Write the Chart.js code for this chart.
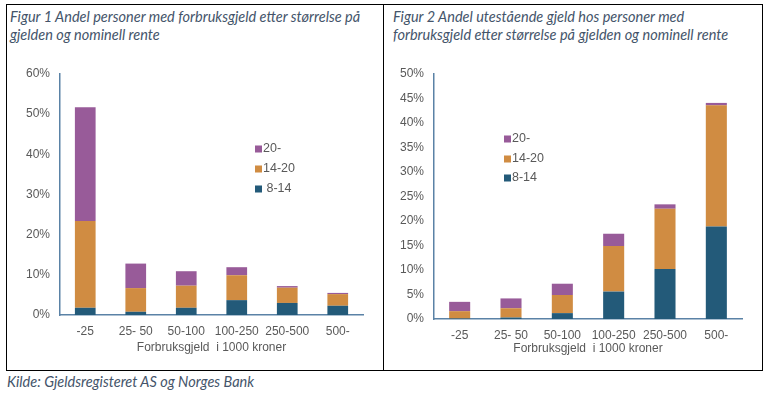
<!DOCTYPE html>
<html><head><meta charset="utf-8">
<script src="https://cdn.jsdelivr.net/npm/chart.js@4"></script>
<style>
html,body{margin:0;padding:0;background:#fff;width:769px;height:395px;overflow:hidden}
.box{position:absolute;border:1.5px solid #000;box-sizing:border-box}
.t{position:absolute;font-family:Lato,"Open Sans",sans-serif;font-style:italic;font-size:14.5px;color:#44546a;white-space:nowrap;line-height:18px}
.t span{display:block;transform-origin:0 50%}
canvas{position:absolute}
</style></head><body>
<div class="box" style="left:6px;top:4px;width:757px;height:367px"></div>
<div class="box" style="left:383px;top:4px;width:1.5px;height:367px;border-width:0 0 0 1.5px"></div>
<div class="t" style="left:10px;top:8px"><span data-w="353">Figur 1 Andel personer med forbruksgjeld etter størrelse på</span><span data-w="158">gjelden og nominell rente</span></div>
<div class="t" style="left:393px;top:8px"><span data-w="294">Figur 2 Andel utestående gjeld hos personer med</span><span data-w="349">forbruksgjeld etter størrelse på gjelden og nominell rente</span></div>
<div class="t" style="left:7px;top:373px"><span data-w="251">Kilde: Gjeldsregisteret AS og Norges Bank</span></div>
<div style="position:absolute;left:8px;top:50px;width:376px;height:318px"><canvas id="c1" width="376" height="318"></canvas></div>
<div style="position:absolute;left:386px;top:50px;width:375px;height:318px"><canvas id="c2" width="375" height="318"></canvas></div>
<script>
// Data
const categories = ['-25', '25- 50', '50-100', '100-250', '250-500', '500-'];
const xAxisTitle = 'Forbruksgjeld  i 1000 kroner';
// Figur 1: andel personer (%)
const fig1_rate8_14  = [1.8, 0.8, 1.8, 3.7, 3.0, 2.3];
const fig1_rate14_20 = [21.6, 5.9, 5.5, 6.2, 3.8, 2.9];
const fig1_rate20    = [28.3, 6.1, 3.6, 2.0, 0.4, 0.3];
// Figur 2: andel utestående gjeld (%)
const fig2_rate8_14  = [0.1, 0.3, 1.2, 5.6, 10.2, 18.9];
const fig2_rate14_20 = [1.5, 1.9, 3.7, 9.3, 12.3, 24.7];
const fig2_rate20    = [1.9, 2.0, 2.3, 2.5, 0.9, 0.5];
const fig1_legend = [' 8-14', '14-20', '20-'];
const fig2_legend = ['8-14', '14-20', '20-'];
const fig1_yTicks = {max: 60, step: 10};
const fig2_yTicks = {max: 50, step: 5};

const C_BLUE = '#235a79', C_ORANGE = '#d08c42', C_PURPLE = '#985b99';
const AXIS = '#5a82a6', TICK = '#595959';
const FONT = "'Liberation Sans', Arial, sans-serif";

function legendPlugin(x, ys) {
  return {
    id: 'customLegend',
    afterDraw(chart) {
      const ctx = chart.ctx;
      const ds = chart.data.datasets;
      ctx.save();
      ctx.font = "12.5px " + FONT;
      ctx.textBaseline = 'middle';
      for (let i = 0; i < ds.length; i++) {
        const d = ds[ds.length - 1 - i];
        const y = ys[i];
        ctx.fillStyle = d.backgroundColor;
        ctx.fillRect(x, y - 3.5, 7, 7);
        ctx.fillStyle = TICK;
        ctx.fillText(d.label, x + 8, y);
      }
      ctx.restore();
    }
  };
}

function make(id, labels, a, b, c, yt, geo, legX, legYs) {
  return new Chart(document.getElementById(id), {
    type: 'bar',
    data: {
      labels: categories,
      datasets: [
        {label: labels[0], data: a, backgroundColor: C_BLUE},
        {label: labels[1], data: b, backgroundColor: C_ORANGE},
        {label: labels[2], data: c, backgroundColor: C_PURPLE}
      ]
    },
    options: {
      responsive: false, animation: false, devicePixelRatio: 1,
      layout: {padding: {top: geo.top, right: geo.right, left: 0, bottom: 0}},
      plugins: {legend: {display: false}, tooltip: {enabled: false}},
      datasets: {bar: {barPercentage: 0.41, categoryPercentage: 1, borderWidth: 0}},
      scales: {
        x: {
          stacked: true,
          grid: {display: false, drawTicks: false},
          border: {display: true, color: AXIS, width: 1.5},
          ticks: {padding: 9, color: TICK, font: {family: FONT, size: 12}, maxRotation: 0, autoSkip: false},
          title: {display: true, text: xAxisTitle, color: TICK, font: {family: FONT, size: 12}, padding: {top: 0, bottom: geo.titleBottom}},
          afterFit(s) { s.height = geo.xh; }
        },
        y: {
          stacked: true, min: 0, max: yt.max,
          grid: {display: false, drawTicks: false},
          border: {display: true, color: AXIS, width: 1.5},
          ticks: {stepSize: yt.step, padding: 10, color: TICK, font: {family: FONT, size: 12}, callback: v => v + '%'},
          afterFit(s) { s.width = geo.yw; }
        }
      }
    },
    plugins: [legendPlugin(legX, legYs)]
  });
}

make('c1', fig1_legend, fig1_rate8_14, fig1_rate14_20, fig1_rate20, fig1_yTicks,
  {top: 24, right: 21, xh: 53, yw: 52, titleBottom: 12.8}, 247, [99, 119, 139]);
make('c2', fig2_legend, fig2_rate8_14, fig2_rate14_20, fig2_rate20, fig2_yTicks,
  {top: 24, right: 19, xh: 49, yw: 48, titleBottom: 11.8}, 118, [89, 109, 128]);

function fit() {
  document.querySelectorAll('.t span').forEach(s => {
    s.style.display = 'inline-block';
    const w = s.getBoundingClientRect().width;
    s.style.display = 'block';
    const target = +s.dataset.w;
    s.style.transform = 'scaleX(' + (target / w).toFixed(4) + ')';
  });
}
if (document.fonts && document.fonts.ready) document.fonts.ready.then(fit); else fit();
fit();
</script>
</body></html>
